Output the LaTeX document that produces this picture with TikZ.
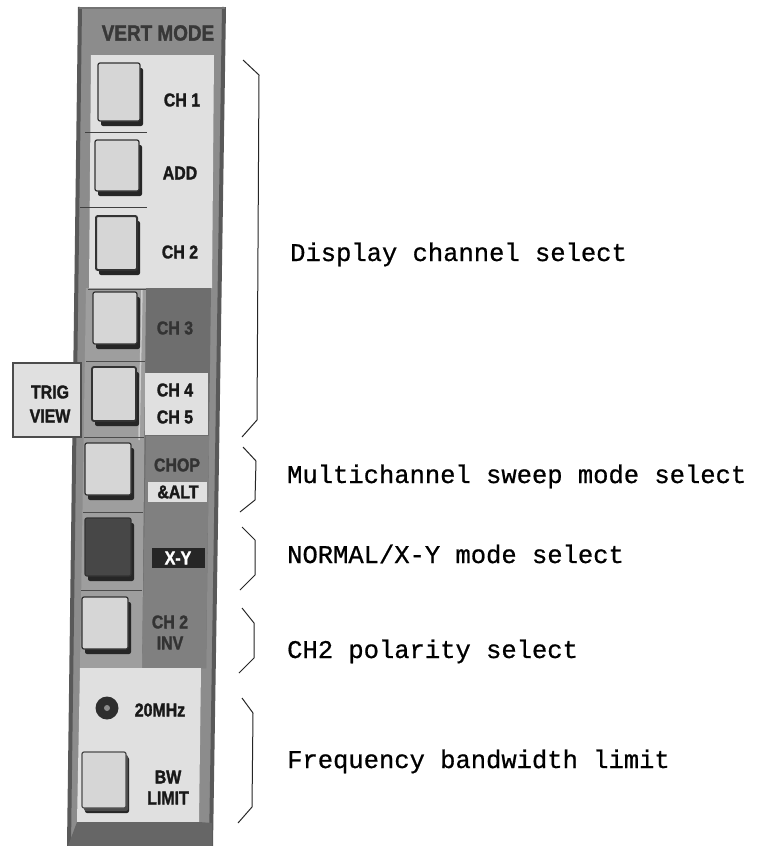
\documentclass[tikz,border=0pt]{standalone}
\usepackage{fontspec}
\usetikzlibrary{shadows}
\newfontfamily\typew[FakeBold=0.7]{Liberation Mono}
\newfontfamily\panelf[FakeStretch=0.86, BoldFeatures={FakeBold=1.6}]{Liberation Sans}
\begin{document}
\begin{tikzpicture}[x=1pt,y=-1pt,
  btn/.style={draw=black!80, line width=1.2pt, fill=black!16, rounded corners=2pt, inner sep=0pt,
    drop shadow={shadow xshift=3pt, shadow yshift=-5pt, fill=black!85, opacity=1}},
  plabel/.style={font=\panelf\bfseries\fontsize{18.5}{18.5}\selectfont, text=black!90, inner sep=0pt},
  dlabel/.style={plabel, text=black!80},
  note/.style={font=\typew\fontsize{25.5}{30}\selectfont, anchor=base west, inner sep=0pt},
  bracket/.style={draw=black!85, line width=1pt, line join=round},
  lightarea/.style={fill=black!12},
]
\fill[white] (0,0) rectangle (773,846);
\useasboundingbox (0,0) rectangle (773,846);

% panel body
\fill[black!45] (79,7) -- (225,7) -- (212,846) -- (68,846) -- cycle;
\draw[black!65, line width=4pt] (80,7) -- (69,846);
\draw[black!65, line width=4pt] (224,7) -- (211,846);
\draw[black!55, line width=2pt] (79,8) -- (225,8);

% title
\node[plabel, font=\panelf\bfseries\fontsize{22}{22}\selectfont, text=black!78] (title) at (158,33) {VERT MODE};

% upper light area
\fill[lightarea] (91,55) -- (214,55) -- (212,288) -- (89,288) -- cycle;
% darker area right of buttons
\fill[black!57] (145,288) -- (211,288) -- (206,668) -- (142,668) -- cycle;
\fill[black!50] (146,436) -- (209,436) -- (206,668) -- (142,668) -- cycle;
% button column (gray bezel)
\fill[black!38] (86,288) -- (146,288) -- (142,668) -- (80,668) -- cycle;
\draw[black!20, line width=1.5pt] (142,290) -- (139,440);
% separators
\draw[black!75, line width=1pt] (85,132) -- (147,132);
\draw[black!75, line width=1pt] (80,207) -- (147,207);
\draw[black!70, line width=1pt] (88,289) -- (146,289);
\draw[black!70, line width=1pt] (86,361) -- (145,361);
\draw[black!70, line width=1pt] (84,437) -- (144,437);
\draw[black!70, line width=1pt] (83,512) -- (143,512);
\draw[black!70, line width=1pt] (81,590) -- (142,590);

% TRIG VIEW box
\node[draw=black!70, line width=2.5pt, fill=black!12, minimum width=68pt, minimum height=74pt, inner sep=0pt] (trigbox) at (47,400) {};
% CH4/CH5 box
\node[fill=black!12, minimum width=63pt, minimum height=62pt, inner sep=0pt] (ch45box) at (176.5,404) {};
% &ALT box
\node[fill=black!12, minimum width=59pt, minimum height=20pt, inner sep=0pt] (altbox) at (177.5,492) {};
% X-Y box
\node[fill=black!85, minimum width=53pt, minimum height=20pt, inner sep=0pt] (xybox) at (178.5,558) {};

% lower light area
\fill[lightarea] (80,668) -- (201,668) -- (199,822) -- (77,822) -- cycle;
\fill[black!60] (77,822) -- (199,822) -- (212,823) -- (212,846) -- (68,846) -- cycle;

% buttons
\node[btn, minimum width=42pt, minimum height=58pt] (b1) at (119,92) {};
\node[btn, minimum width=44pt, minimum height=51pt] (b2) at (117,165.5) {};
\node[btn, line width=2pt, minimum width=41pt, minimum height=54pt] (b3) at (116.5,243) {};
\node[btn, minimum width=44pt, minimum height=52pt] (b4) at (115,318) {};
\node[btn, line width=1.8pt, minimum width=44pt, minimum height=54pt] (b5) at (114,394) {};
\node[btn, minimum width=46pt, minimum height=52pt] (b6) at (108,469) {};
\node[btn, fill=black!72, minimum width=46pt, minimum height=58pt] (b7) at (108,547) {};
\node[btn, minimum width=46pt, minimum height=52pt] (b8) at (105,623) {};
\node[btn, draw=black!70, drop shadow={shadow xshift=2pt, shadow yshift=-3pt, fill=black!70, opacity=1}, minimum width=44pt, minimum height=56pt] (b9) at (104,780) {};

% knob
\node[circle, fill=black!82, minimum size=23pt, inner sep=0pt] (knob) at (107,708) {};
\fill[black!45] (knob.center) circle (3pt);

% panel labels
\node[plabel] (lch1) at (182,100) {CH 1};
\node[plabel] (ladd) at (180,173) {ADD};
\node[plabel] (lch2) at (180,252) {CH 2};
\node[dlabel] (lch3) at (175,328) {CH 3};
\node[plabel] (lch4) at (175,390) {CH 4};
\node[plabel] (lch5) at (175,417) {CH 5};
\node[plabel] (ltrig) at (50,392) {TRIG};
\node[plabel] (lview) at (50,416) {VIEW};
\node[dlabel] (lchop) at (177,465) {CHOP};
\node[plabel] (lalt) at (178,492) {\&ALT};
\node[plabel, text=white] (lxy) at (178,558) {X-Y};
\node[dlabel] (lch2b) at (170,622) {CH 2};
\node[dlabel] (linv) at (170,643) {INV};
\node[plabel] (l20) at (160,710) {20MHz};
\node[plabel] (lbw) at (168,777) {BW};
\node[plabel] (llim) at (168,798) {LIMIT};

% brackets
\draw[bracket] (243,60) -- (259,75) -- (257,420) -- (242,437);
\draw[bracket] (243,447) -- (256,461) -- (255,500) -- (240,512);
\draw[bracket] (242,527) -- (255,540) -- (255,575) -- (240,590);
\draw[bracket] (242,608) -- (254,623) -- (254,658) -- (239,673);
\draw[bracket] (242,698) -- (253,713) -- (252,807) -- (238,823);

% descriptions
\node[note] (t1) at (290,261) {Display channel select};
\node[note] (t2) at (287,483) {Multichannel sweep mode select};
\node[note] (t3) at (287,563) {NORMAL/X-Y mode select};
\node[note] (t4) at (287,658) {CH2 polarity select};
\node[note] (t5) at (287,768) {Frequency bandwidth limit};
\end{tikzpicture}
\end{document}
